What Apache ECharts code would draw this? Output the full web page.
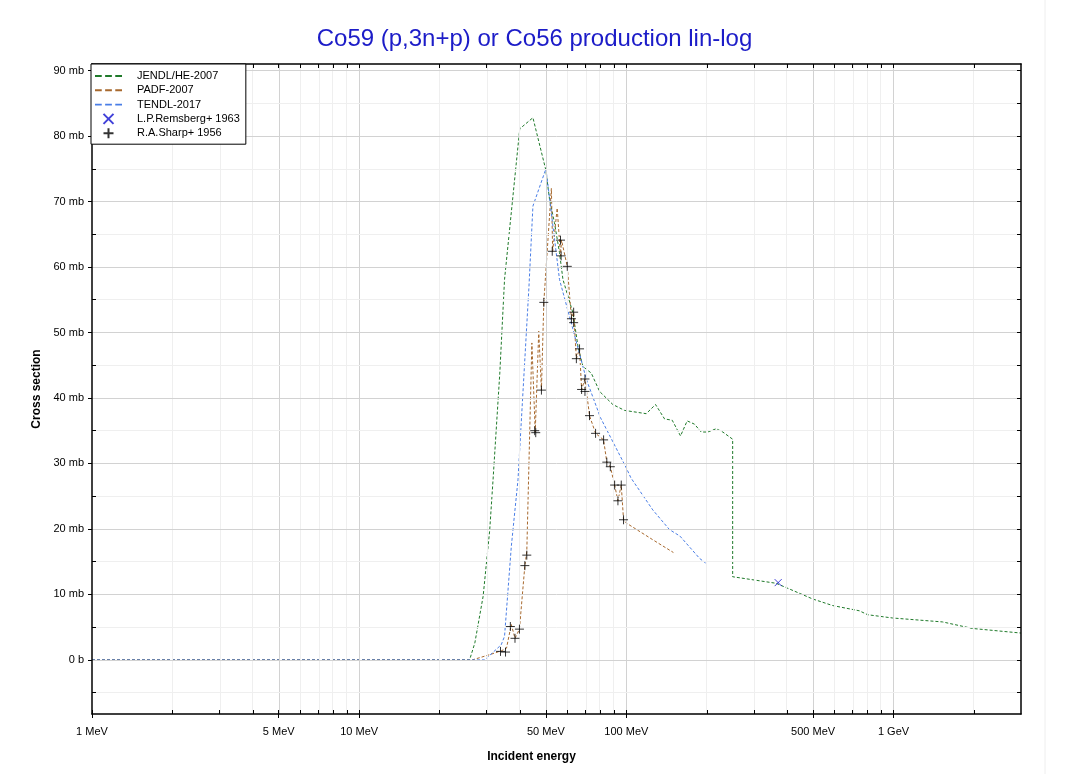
<!DOCTYPE html>
<html>
<head>
<meta charset="utf-8">
<script src="https://cdn.jsdelivr.net/npm/echarts@6/dist/echarts.min.js"></script>
<style>
html,body{margin:0;padding:0;background:#fff;}
#chart{width:1069px;height:774px;}
</style>
</head>
<body>
<div id="chart"></div>
<script>
// ---- data (energies in MeV, cross sections in mb) ----
const jendlE = [1, 25.9, 27.1, 29.1, 30.8, 31.7, 33.6, 35.0, 39.9, 44.7, 49.9, 51.6, 53.8, 56.2, 57.9, 63.1, 65.9, 68.8, 73.9, 79.4, 89.0, 98.5, 118.7, 128.6, 139.0, 148.5, 159.5, 168.9, 179.9, 190.6, 201.7, 216.9, 229.6, 250, 250, 363.6, 498.5, 591.9, 745, 800, 992, 1526, 1976, 3000];
const jendlY = [0, 0, 2.6, 9.7, 19.8, 27.5, 43.8, 58.1, 81.1, 82.8, 74.9, 70.3, 66.8, 62.2, 58.1, 53.0, 47.9, 44.8, 43.8, 41.0, 39.0, 38.1, 37.6, 39.0, 36.8, 36.6, 34.2, 36.5, 36.0, 34.8, 34.8, 35.3, 34.8, 33.7, 12.7, 11.7, 9.3, 8.3, 7.5, 6.9, 6.4, 5.8, 4.8, 4.1];

const padfE = [1, 26.5, 30.8, 34.1, 35.6, 37.1, 37.6, 38.3, 39.8, 41.7, 42.4, 44.3, 45.6, 47.0, 48.1, 49.1, 52.4, 53.0, 55.1, 56.7, 57.2, 60.1, 62.3, 63.5, 65.0, 66.8, 68.0, 70.0, 72.8, 76.7, 82.2, 84.5, 87.1, 90.4, 93.0, 95.7, 97.6, 100, 125, 150];
const padfY = [0, 0, 0.8, 1.4, 1.8, 5.4, 5.4, 3.3, 4.7, 14.4, 16.5, 48.4, 34.8, 50.2, 41.2, 54.6, 72.0, 62.4, 69.0, 61.7, 64.1, 60.1, 52.1, 53.1, 46.0, 47.5, 41.3, 42.9, 37.3, 34.6, 33.6, 30.2, 29.5, 26.7, 24.3, 26.7, 21.4, 20.9, 18.4, 16.4];

const tendlE = [1, 29.5, 34.0, 35.0, 37.1, 39.3, 43.2, 44.7, 50.0, 56.2, 63.1, 70.9, 80.0, 100, 104, 125.6, 145, 158.8, 188, 198];
const tendlY = [0, 0, 2.3, 3.6, 17.3, 27.5, 57.0, 69.3, 75.0, 58.1, 50.5, 42.8, 37.0, 29.3, 27.8, 22.9, 19.9, 18.9, 15.5, 14.8];

const remsbergE = [370];
const remsbergY = [11.8];

const sharpE = [33.8, 35.3, 36.8, 38.3, 39.8, 41.7, 42.4, 45.4, 45.8, 48.1, 49.1, 52.8, 56.7, 57.0, 60.1, 62.3, 63.5, 63.5, 65.0, 66.8, 68.0, 70.0, 70.0, 72.8, 76.7, 82.2, 84.5, 87.1, 90.4, 93.0, 95.7, 97.6];
const sharpY = [1.3, 1.2, 5.1, 3.3, 4.7, 14.4, 16.0, 35.0, 34.7, 41.2, 54.6, 62.4, 64.1, 61.7, 60.1, 52.1, 53.1, 51.5, 46.0, 47.5, 41.3, 42.9, 41.0, 37.3, 34.6, 33.6, 30.2, 29.5, 26.7, 24.3, 26.7, 21.4];

// ---- ticks ----
const xMajorMeV = [1, 5, 10, 50, 100, 500, 1000];
const xMajorLabels = ['1 MeV', '5 MeV', '10 MeV', '50 MeV', '100 MeV', '500 MeV', '1 GeV'];
const xMinorMeV = [2, 3, 4, 6, 7, 8, 9, 20, 30, 40, 60, 70, 80, 90, 200, 300, 400, 600, 700, 800, 900, 2000];
const xMinMeV = 1, xMaxMeV = 3000;
const yMajor = [0, 10, 20, 30, 40, 50, 60, 70, 80, 90];
const yMajorLabels = ['0 b', '10 mb', '20 mb', '30 mb', '40 mb', '50 mb', '60 mb', '70 mb', '80 mb', '90 mb'];
const yMinor = [-5, 5, 15, 25, 35, 45, 55, 65, 75, 85];
const yMin = -8.26, yMax = 91.0;

const lx = e => Math.log10(e);
const pairs = (E, Y) => E.map((e, i) => [lx(e), Y[i]]);
const xAll = xMajorMeV.concat(xMinorMeV).map(lx);
const yAll = yMajor.concat(yMinor);

const FONT = 'Liberation Sans, Arial, sans-serif';
const MAJOR_GRID = '#d2d2d2', MINOR_GRID = '#efefef';
const C_JENDL = '#1f7a2a', C_PADF = '#a8692e', C_TENDL = '#4a7ee6';

const gridLines = [];
xMajorMeV.filter(v => v > xMinMeV).forEach(v => gridLines.push({xAxis: lx(v), lineStyle: {color: MAJOR_GRID, width: 1, type: 'solid'}}));
xMinorMeV.forEach(v => gridLines.push({xAxis: lx(v), lineStyle: {color: MINOR_GRID, width: 1, type: 'solid'}}));
yMajor.forEach(v => gridLines.push({yAxis: v, lineStyle: {color: MAJOR_GRID, width: 1, type: 'solid'}}));
yMinor.forEach(v => gridLines.push({yAxis: v, lineStyle: {color: MINOR_GRID, width: 1, type: 'solid'}}));

const plusPath = 'path://M5,0 L5,10 M0,5 L10,5';
const xPath = 'path://M0,0 L10,10 M10,0 L0,10';
const dashIcon = 'path://M0,0 L7,0 L7,2 L0,2 Z M10.5,0 L17.5,0 L17.5,2 L10.5,2 Z M21,0 L28,0 L28,2 L21,2 Z';

const axisLineStyle = {color: '#000', width: 1.5};
const xBase = {type: 'value', min: lx(xMinMeV), max: lx(xMaxMeV), splitLine: {show: false}, z: 10};
const yBase = {type: 'value', min: yMin, max: yMax, splitLine: {show: false}, z: 10};

const chart = echarts.init(document.getElementById('chart'), null, {renderer: 'canvas'});
chart.setOption({
  animation: false,
  backgroundColor: '#fff',
  title: {
    text: 'Co59 (p,3n+p) or Co56 production lin-log',
    left: 'center', top: 22,
    textStyle: {color: '#1c1cc8', fontSize: 24, fontWeight: 'normal', fontFamily: FONT}
  },
  grid: {left: 92, right: 48, top: 64, bottom: 60, containLabel: false},
  legend: {
    orient: 'vertical', left: 91, top: 64,
    backgroundColor: '#fff', borderColor: '#000', borderWidth: 1,
    padding: [5, 6, 4, 4],
    itemWidth: 27, itemHeight: 10, itemGap: 0.3,
    symbolKeepAspect: true,
    selectedMode: false,
    textStyle: {fontSize: 11, lineHeight: 14, color: '#000', fontFamily: FONT, padding: [0, 0, 0, 10]},
    data: [
      {name: 'JENDL/HE-2007', icon: dashIcon, itemStyle: {color: C_JENDL, borderWidth: 0}},
      {name: 'PADF-2007', icon: dashIcon, itemStyle: {color: C_PADF, borderWidth: 0}},
      {name: 'TENDL-2017', icon: dashIcon, itemStyle: {color: C_TENDL, borderWidth: 0}},
      {name: 'L.P.Remsberg+ 1963'},
      {name: 'R.A.Sharp+ 1956'}
    ],
    z: 20
  },
  graphic: [{
    type: 'line', shape: {x1: 1045, y1: 0, x2: 1045, y2: 774},
    style: {stroke: '#eeeeee', lineWidth: 1}, silent: true
  }],
  xAxis: [
    Object.assign({}, xBase, {
      position: 'bottom',
      name: 'Incident energy', nameLocation: 'middle', nameGap: 37,
      nameTextStyle: {fontSize: 12, fontWeight: 'bold', color: '#000', fontFamily: FONT, padding: [0, 50, 0, 0]},
      axisLine: {show: true, onZero: false, lineStyle: axisLineStyle},
      axisTick: {show: true, inside: false, length: 4, customValues: xMajorMeV.map(lx), lineStyle: {color: '#000', width: 1}},
      axisLabel: {
        show: true, margin: 12, fontSize: 11, color: '#000', fontFamily: FONT,
        customValues: xMajorMeV.map(lx),
        formatter: v => {
          const i = xMajorMeV.findIndex(m => Math.abs(lx(m) - v) < 1e-6);
          return i >= 0 ? xMajorLabels[i] : '';
        }
      }
    }),
    Object.assign({}, xBase, {
      position: 'bottom',
      axisLine: {show: false, onZero: false},
      axisTick: {show: true, inside: true, length: 4, customValues: xAll, lineStyle: {color: '#000', width: 1}},
      axisLabel: {show: false}
    }),
    Object.assign({}, xBase, {
      position: 'top',
      axisLine: {show: true, onZero: false, lineStyle: axisLineStyle},
      axisTick: {show: true, inside: true, length: 4, customValues: xAll, lineStyle: {color: '#000', width: 1}},
      axisLabel: {show: false}
    })
  ],
  yAxis: [
    Object.assign({}, yBase, {
      position: 'left',
      name: 'Cross section', nameLocation: 'middle', nameGap: 49,
      nameTextStyle: {fontSize: 12, fontWeight: 'bold', color: '#000', fontFamily: FONT},
      axisLine: {show: true, onZero: false, lineStyle: axisLineStyle},
      axisTick: {show: true, inside: false, length: 4, customValues: yMajor, lineStyle: {color: '#000', width: 1}},
      axisLabel: {
        show: true, margin: 8, fontSize: 11, color: '#000', fontFamily: FONT,
        customValues: yMajor,
        formatter: v => {
          const i = yMajor.findIndex(m => Math.abs(m - v) < 1e-6);
          return i >= 0 ? yMajorLabels[i] : '';
        }
      }
    }),
    Object.assign({}, yBase, {
      position: 'left',
      axisLine: {show: false, onZero: false},
      axisTick: {show: true, inside: true, length: 4, customValues: yMinor, lineStyle: {color: '#000', width: 1}},
      axisLabel: {show: false}
    }),
    Object.assign({}, yBase, {
      position: 'right',
      axisLine: {show: true, onZero: false, lineStyle: axisLineStyle},
      axisTick: {show: true, inside: true, length: 4, customValues: yAll, lineStyle: {color: '#000', width: 1}},
      axisLabel: {show: false}
    })
  ],
  series: [
    {
      name: '__grid', type: 'line', data: [], xAxisIndex: 0, yAxisIndex: 0, z: 1, silent: true,
      markLine: {silent: true, symbol: ['none', 'none'], label: {show: false}, animation: false, data: gridLines}
    },
    {
      name: 'JENDL/HE-2007', type: 'line', data: pairs(jendlE, jendlY), showSymbol: false, symbol: 'none',
      lineStyle: {color: C_JENDL, width: 1, type: [3, 2]}, itemStyle: {color: C_JENDL}, z: 3
    },
    {
      name: 'PADF-2007', type: 'line', data: pairs(padfE, padfY), showSymbol: false, symbol: 'none',
      lineStyle: {color: C_PADF, width: 1, type: [3, 2]}, itemStyle: {color: C_PADF}, z: 3
    },
    {
      name: 'TENDL-2017', type: 'line', data: pairs(tendlE, tendlY), showSymbol: false, symbol: 'none',
      lineStyle: {color: C_TENDL, width: 1, type: [3, 2]}, itemStyle: {color: C_TENDL}, z: 3
    },
    {
      name: 'L.P.Remsberg+ 1963', type: 'scatter', data: pairs(remsbergE, remsbergY),
      symbol: xPath, symbolSize: 7,
      itemStyle: {color: 'transparent', borderColor: '#1010d0', borderWidth: 1}, z: 5
    },
    {
      name: 'R.A.Sharp+ 1956', type: 'scatter', data: pairs(sharpE, sharpY),
      symbol: plusPath, symbolSize: 9,
      itemStyle: {color: 'transparent', borderColor: '#000', borderWidth: 1}, z: 5
    }
  ]
});
</script>
</body>
</html>
